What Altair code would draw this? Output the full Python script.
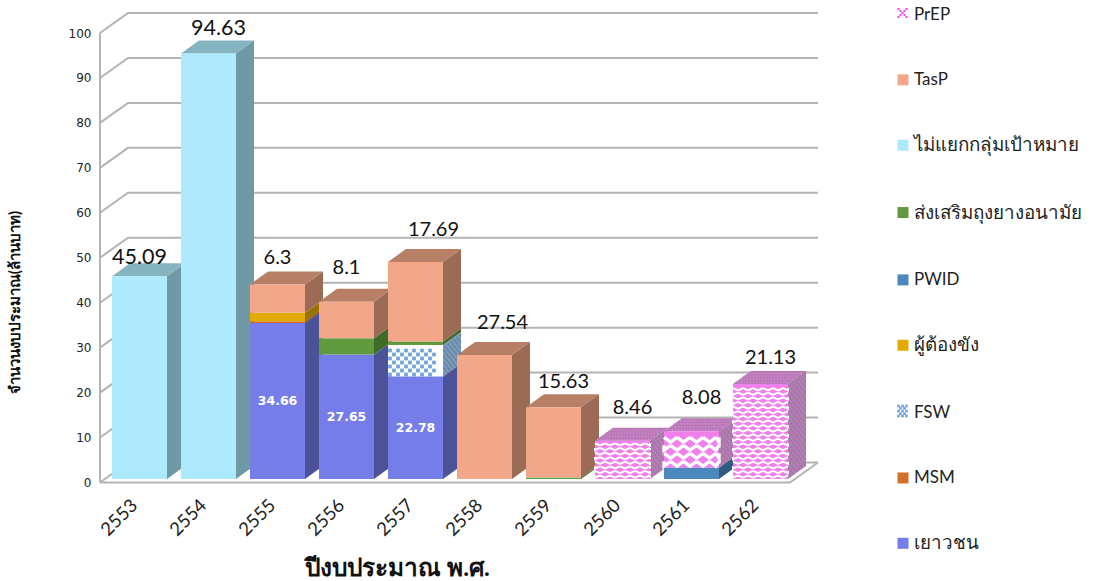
import altair as alt
import pandas as pd

alt.data_transformers.disable_max_rows()

# Budget by fiscal year (million baht), bottom of each stack first
years = [2553, 2554, 2555, 2556, 2557, 2558, 2559, 2560, 2561, 2562]
youth = [0, 0, 34.66, 27.65, 22.78, 0, 0, 0, 0, 0]
msm = [0, 0, 0.4, 0, 0, 0, 0, 0, 0, 0]
fsw = [0, 0, 0, 0, 7.0, 0, 0, 0, 0, 0]
prison = [0, 0, 1.9, 0, 0, 0, 0, 0, 0, 0]
pwid = [0, 0, 0, 0, 0, 0, 0, 0, 2.5, 0]
condom = [0, 0, 0, 3.65, 0.8, 0, 0.3, 0, 0, 0]
untargeted = [45.09, 94.63, 0, 0, 0, 0, 0, 0, 0, 0]
tasp = [0, 0, 6.3, 8.1, 17.69, 27.54, 15.63, 0, 0, 0]
prep = [0, 0, 0, 0, 0, 0, 0, 8.46, 8.08, 21.13]

series_names = ["เยาวชน", "MSM", "FSW", "ผู้ต้องขัง", "PWID", "ส่งเสริมถุงยางอนามัย",
                "ไม่แยกกลุ่มเป้าหมาย", "TasP", "PrEP"]
series_values = [youth, msm, fsw, prison, pwid, condom, untargeted, tasp, prep]
# Hatched series keep a clear legend colour; their bars get a solid base of their own
front_colors = ["#757ee8", "#d1702b", "transparent", "#e3aa00", "#4c87bd", "#629b3f",
                "#aeeafd", "#f2a789", "transparent"]
hatch_base = {"FSW": "#ffffff", "PrEP": "#f080ec"}
side_colors = ["#4c5298", "#8a4a1c", "#7f9cb8", "#997300", "#2f5c80", "#3f6a28",
               "#6f99a5", "#9c6b55", "#a47aa4"]
top_colors = ["#5a62b4", "#a05a24", "#8fb0cc", "#b08600", "#3a6c98", "#4d7d30",
              "#85b4c1", "#b67f66", "#b57ab2"]

# Label placement offsets in pixels, per year
label_dx = [0, 10, 0, 0, 18, 18, 10, 10, 10, 10]
label_lift = [18, 25, 26, 34, 32, 32, 25, 33, 33, 26]
label_size = [21.5, 21.5, 20, 20, 20, 20, 20, 20, 20, 20]

# Scale geometry of the projected chart box
PLOT_W, PLOT_H = 718, 449.5
STEP_PX = 69
X_UNIT = 1 / STEP_PX
Y_UNIT = 100 / PLOT_H
BAR_W = 55 * X_UNIT
BAR_PAD = 7 * X_UNIT
NEAR_X, NEAR_Y = 5 * X_UNIT, 3.6 * Y_UNIT
DEEP_X, DEEP_Y = 18 * X_UNIT, 13 * Y_UNIT
WALL_X, WALL_Y = 28 * X_UNIT, 20 * Y_UNIT
FONT = "Lato"
levels = list(range(0, 101, 10))

x_scale = alt.Scale(domain=[0, PLOT_W * X_UNIT], nice=False, zero=False)
y_scale = alt.Scale(domain=[0, 100], nice=False, zero=False)

x_axis = alt.Axis(
    values=[i + 0.5 - 7 * X_UNIT for i in range(len(years))],
    labelExpr=f"{years}[floor(datum.value)]",
    labelAngle=-45, labelFontSize=18.5, labelFont=FONT, labelColor="#222222",
    labelAlign="right", labelBaseline="top", labelPadding=13, labelOverlap=False,
    labelFlush=False, ticks=False, domain=False, grid=False,
    title="ปีงบประมาณ พ.ศ.", titleFontSize=24.4, titleFont=FONT, titleFontWeight="bold",
    titleColor="#111111", titleX=297, titleY=93, titleBaseline="alphabetic")
y_axis = alt.Axis(
    values=levels, labelFontSize=12, labelFont="DejaVu Sans", labelColor="#222222",
    labelPadding=9, ticks=False, domain=False, grid=False,
    title="จำนวนงบประมาณ(ล้านบาท)", titleFontSize=15, titleFont=FONT, titleFontWeight="bold",
    titleColor="#111111", titleX=-78, titleY=269, titleAngle=-90)


def X(field="x"):
    return alt.X(f"{field}:Q", scale=x_scale, axis=x_axis)


def Y(field="y"):
    return alt.Y(f"{field}:Q", scale=y_scale, axis=y_axis)


# Stack segments
segments = []
for i in range(len(years)):
    base = 0.0
    for s, vals in enumerate(series_values):
        v = vals[i]
        if v > 0:
            left = i + BAR_PAD + NEAR_X
            segments.append(dict(i=i, series=series_names[s], s=s, left=left, right=left + BAR_W,
                                 low=base + NEAR_Y, high=base + v + NEAR_Y, value=v))
            base += v

top_of = {}
for seg in segments:
    top_of[seg["i"]] = seg

# Side and top faces as areas
faces = []
for n, seg in enumerate(segments):
    key = f"side{n}"
    r, lo, hi = seg["right"], seg["low"], seg["high"]
    faces.append(dict(key=key, x=r, y=lo, y2=hi, fill=side_colors[seg["s"]]))
    faces.append(dict(key=key, x=r + DEEP_X, y=lo + DEEP_Y, y2=hi + DEEP_Y, fill=side_colors[seg["s"]]))
    if top_of[seg["i"]] is seg:
        key = f"top{n}"
        l = seg["left"]
        c = top_colors[seg["s"]]
        faces.append(dict(key=key, x=l, y=hi, y2=hi, fill=c))
        faces.append(dict(key=key, x=l + DEEP_X, y=hi, y2=hi + DEEP_Y, fill=c))
        faces.append(dict(key=key, x=r, y=hi, y2=hi + DEEP_Y, fill=c))
        faces.append(dict(key=key, x=r + DEEP_X, y=hi + DEEP_Y, y2=hi + DEEP_Y, fill=c))
faces_df = pd.DataFrame(faces)


def lattice(x0, x1, y0, y1, sx, sy):
    """Pattern cell centres in data units, every other row shifted by half a step."""
    rows = int((y1 - y0) / (sy * Y_UNIT))
    cols = int((x1 - x0) / (sx * X_UNIT))
    out = []
    for r in range(rows):
        shift = 0.5 if r % 2 else 0.0
        for c in range(cols):
            px = x0 + (c + 0.25 + shift) * sx * X_UNIT
            if px < x1:
                out.append((px, y0 + (r + 0.5) * sy * Y_UNIT))
    return out


# Speckle on the hatched side and top faces
back_dots = []
for seg in segments:
    if seg["series"] not in hatch_base:
        continue
    tone = "#5d7f9f" if seg["series"] == "FSW" else "#c27cc6"
    for u, v in lattice(0, DEEP_X, seg["low"], seg["high"], 3, 3):
        back_dots.append(dict(x=seg["right"] + u, y=v + DEEP_Y * u / DEEP_X, fill=tone))
    if top_of[seg["i"]] is seg:
        for u, v in lattice(seg["left"], seg["right"], 0, DEEP_Y, 3, 3):
            back_dots.append(dict(x=u + DEEP_X * v / DEEP_Y, y=seg["high"] + v, fill="#d483d4"))
back_dots_df = pd.DataFrame(back_dots)

# Front hatching: staggered white chevrons for PrEP, blue checks for FSW
chevrons = []
front_dots = []
for n, seg in enumerate(segments):
    if seg["series"] == "PrEP":
        coarse = seg["i"] == years.index(2561)
        gap, amp, period, w = (8, 2.4, 13, 3.4) if coarse else (4.6, 1.1, 10, 2.0)
        half_y, half_x = amp * Y_UNIT, period / 2 * X_UNIT
        rows = int((seg["high"] - seg["low"]) / (gap * Y_UNIT))
        for r in range(rows):
            yc = seg["low"] + (r + 0.5) * gap * Y_UNIT
            start = seg["left"] + (0.0 if r % 2 else -period / 2 * X_UNIT)
            for c in range(8):
                xc = start + c * period * X_UNIT
                for m, (px, py) in enumerate([(xc, yc + half_y), (xc + half_x, yc - half_y),
                                              (xc + 2 * half_x, yc + half_y)]):
                    if xc + 2 * half_x < seg["left"] or xc > seg["right"]:
                        continue
                    t_x = min(max(px, seg["left"]), seg["right"])
                    chevrons.append(dict(key=f"{n}-{r}-{c}", w=w, x=t_x, y=py))
    if seg["series"] == "FSW":
        for u, v in lattice(seg["left"], seg["right"], seg["low"], seg["high"], 8, 4):
            front_dots.append(dict(x=u, y=v, fill="#6ea6dc", size=14))
chevrons_df = pd.DataFrame(chevrons)

# Swatch hatching shown through the clear legend symbols
SW_X = (897 - 100) * X_UNIT
FSW_ROW, PREP_ROW = 411, 13


def swatch_y(row):
    return (482.5 - row) * Y_UNIT


for dx, dy in [(1.5, 0), (5.5, 0), (9.5, 0), (3.5, -2.7), (7.5, -2.7), (3.5, 2.7), (7.5, 2.7),
               (1.5, -5), (5.5, -5), (9.5, -5), (1.5, 5), (5.5, 5), (9.5, 5)]:
    front_dots.append(dict(x=SW_X + dx * X_UNIT, y=swatch_y(FSW_ROW) + dy * Y_UNIT,
                           fill="#6ea6dc", size=7))
for dx, dy in [(1.5, -4), (3.5, -2), (5.5, 0), (7.5, 2), (9.5, 4), (9.5, -4), (7.5, -2), (3.5, 2), (1.5, 4)]:
    front_dots.append(dict(x=SW_X + dx * X_UNIT, y=swatch_y(PREP_ROW) + dy * Y_UNIT, fill="#f040f0", size=4))
front_dots_df = pd.DataFrame(front_dots)

# Chart box: wall and floor lines
box = []
for v in levels:
    box.append(dict(key=f"g{v}", x=0, y=v))
    box.append(dict(key=f"g{v}", x=WALL_X, y=v + WALL_Y))
    box.append(dict(key=f"g{v}", x=PLOT_W * X_UNIT, y=v + WALL_Y))
box.append(dict(key="left", x=0, y=0))
box.append(dict(key="left", x=0, y=100))
box.append(dict(key="floor", x=0, y=0))
box.append(dict(key="floor", x=PLOT_W * X_UNIT - WALL_X, y=0))
box.append(dict(key="floor", x=PLOT_W * X_UNIT, y=WALL_Y))
box_df = pd.DataFrame(box)

# Value labels
totals = []
inner = []
for i, yr in enumerate(years):
    seg = top_of[i]
    totals.append(dict(x=seg["left"] + BAR_W / 2 + label_dx[i] * X_UNIT,
                       y=seg["high"] + label_lift[i] * Y_UNIT,
                       text=f"{seg['value']:g}", size=label_size[i]))
    if youth[i] > 0:
        inner.append(dict(x=seg["left"] + BAR_W / 2, y=NEAR_Y + youth[i] / 2, text=f"{youth[i]:g}"))
totals_df = pd.DataFrame(totals)
inner_df = pd.DataFrame(inner)

seg_df = pd.DataFrame(segments)
hatch_df = seg_df[seg_df["series"].isin(hatch_base)].copy()
hatch_df["fill"] = hatch_df["series"].map(hatch_base)

box_layer = alt.Chart(box_df).mark_line(color="#b4b4b4", strokeWidth=2, interpolate="linear").encode(
    x=X(), y=Y(), detail="key:N")

face_layer = alt.Chart(faces_df).mark_area(interpolate="linear").encode(
    x=X(), y=Y(), y2="y2:Q", fill=alt.Fill("fill:N", scale=None), detail="key:N")

back_dot_layer = alt.Chart(back_dots_df).mark_square(size=3, opacity=1, strokeWidth=0).encode(
    x=X(), y=Y(), fill=alt.Fill("fill:N", scale=None))

hatch_base_layer = alt.Chart(hatch_df).mark_rect().encode(
    x=X("left"), x2="right:Q", y=Y("low"), y2="high:Q", fill=alt.Fill("fill:N", scale=None))

front_layer = alt.Chart(seg_df).mark_rect().encode(
    x=X("left"), x2="right:Q", y=Y("low"), y2="high:Q",
    color=alt.Color("series:N",
                    scale=alt.Scale(domain=series_names[::-1], range=front_colors[::-1]),
                    legend=alt.Legend(title=None, orient="none", legendX=794.5, legendY=-27,
                                      symbolType="square", symbolSize=121, symbolStrokeWidth=0,
                                      symbolOpacity=1, labelFont=FONT,
                                      labelFontSize=alt.ExprRef("test(/[A-Za-z]/, datum.label) ? 17 : 18.8"),
                                      labelColor="#222222", labelOffset=2.5, labelLimit=300,
                                      rowPadding=47.35, padding=0)),
)

chevron_layer = alt.Chart(chevrons_df).mark_line(color="white", interpolate="linear").encode(
    x=X(), y=Y(), detail="key:N", strokeWidth=alt.StrokeWidth("w:Q", scale=None))

front_dot_layer = alt.Chart(front_dots_df).mark_square(opacity=1, strokeWidth=0).encode(
    x=X(), y=Y(), fill=alt.Fill("fill:N", scale=None), size=alt.Size("size:Q", scale=None))

total_layer = alt.Chart(totals_df).mark_text(font=FONT, color="#111111").encode(
    x=X(), y=Y(), text="text:N", size=alt.Size("size:Q", scale=None))

inner_layer = alt.Chart(inner_df).mark_text(font="DejaVu Sans", fontWeight="bold", fontSize=12.5,
                                             color="white").encode(x=X(), y=Y(), text="text:N")

chart = alt.layer(box_layer, face_layer, back_dot_layer, hatch_base_layer, front_layer, chevron_layer,
                  front_dot_layer, total_layer, inner_layer).properties(
    width=PLOT_W, height=PLOT_H,
    padding={"left": 100, "top": 33, "right": 278, "bottom": 98.5},
    autosize=alt.AutoSizeParams(type="none"),
    background="white",
).configure_view(stroke=None)

chart.save("out.html", embed_options={"renderer": "svg", "actions": False})
